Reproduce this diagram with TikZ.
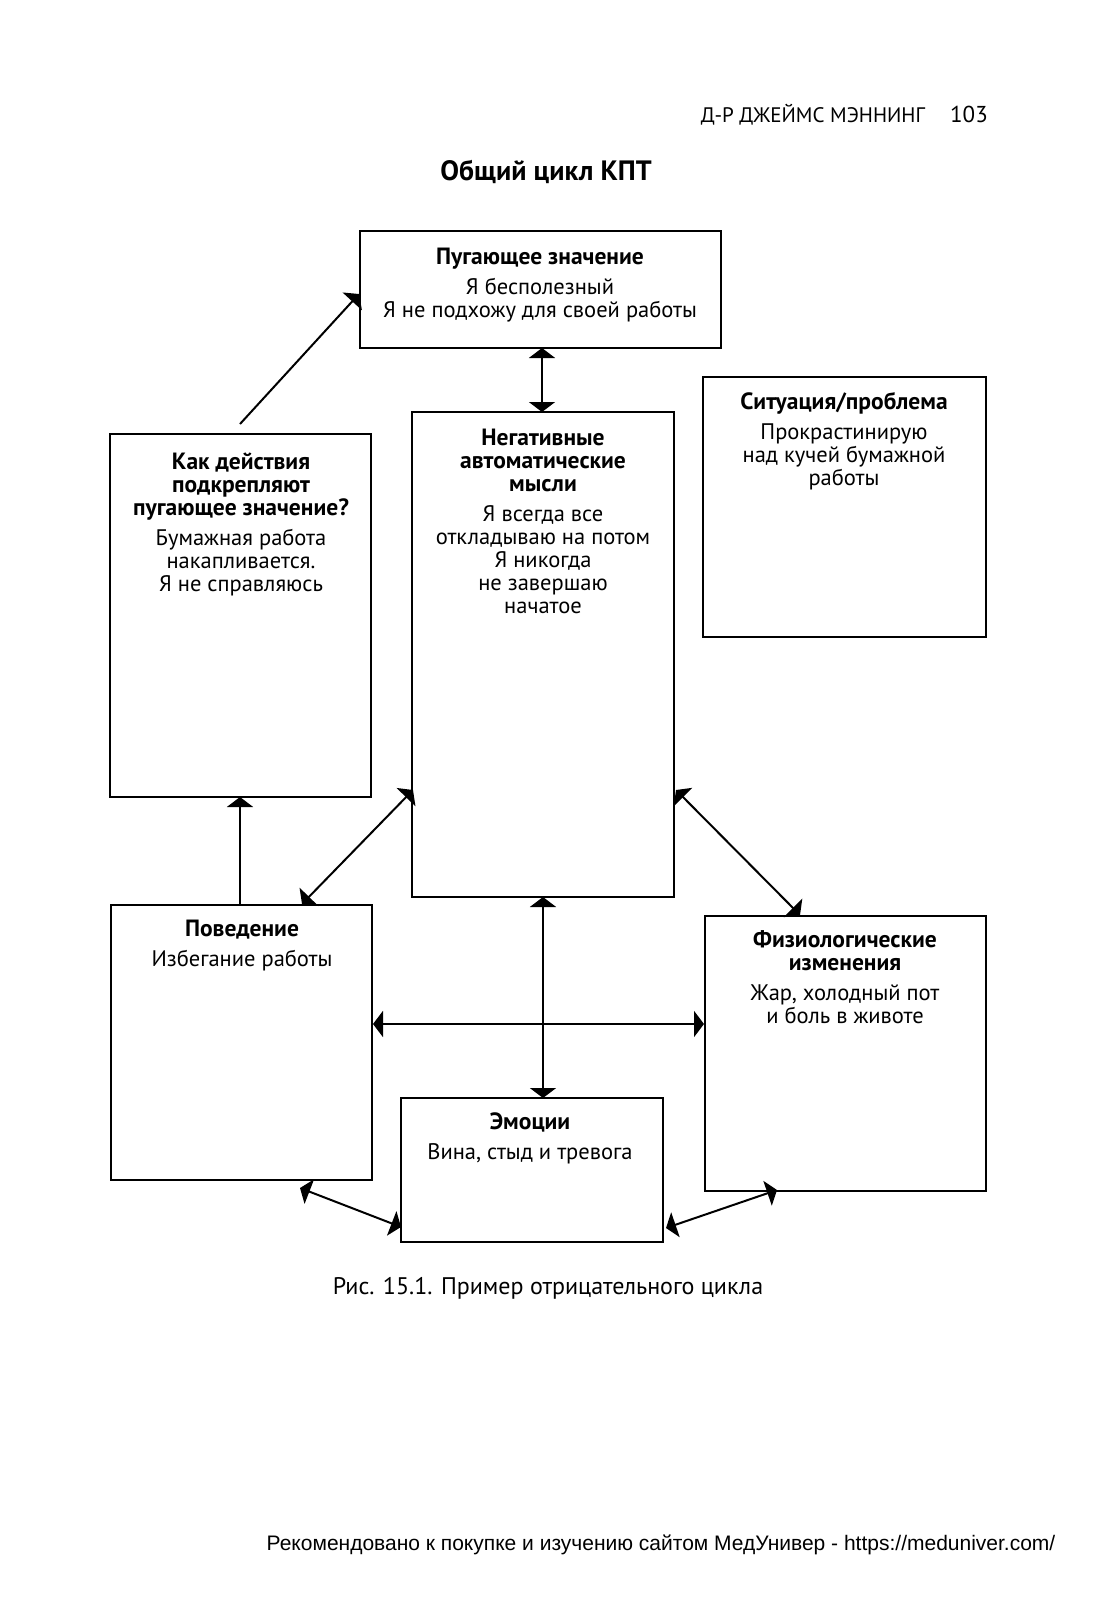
\documentclass[tikz,border=0pt]{standalone}
\usepackage{fontspec}
\setmainfont{PT Sans}
\newfontfamily\footfont{Liberation Sans}
\usetikzlibrary{arrows.meta}
\newcommand\hdf{\fontsize{23.5}{23}\selectfont\bfseries}
\begin{document}
\begin{tikzpicture}[x=1pt,y=-1pt,
  box/.style n args={2}{draw,line width=2pt,inner sep=0pt,outer sep=0pt,
    minimum width=#1pt,minimum height=#2pt,anchor=north west},
  txt/.style={align=center,inner sep=0pt,anchor=north,font=\fontsize{22.5}{23}\selectfont},
  con/.style={line width=2pt,-{Triangle[length=10pt,width=26pt]}},
  dcon/.style={line width=2pt,{Triangle[length=10pt,width=26pt]}-{Triangle[length=10pt,width=26pt]}}
]
\useasboundingbox (0,0) rectangle (1119,1600);
\fill[white] (0,0) rectangle (1119,1600);

% header
\node[anchor=base east,inner sep=0pt,font=\fontsize{21}{25}\selectfont] (hdr) at (925,123) {Д-Р ДЖЕЙМС МЭННИНГ};
\node[anchor=base west,inner sep=0pt,font=\fontsize{23}{25}\selectfont] (pg) at (950,123) {103};
\node[anchor=base,inner sep=0pt,font=\fontsize{28}{30}\selectfont\bfseries] (title) at (546,180) {Общий цикл КПТ};

% boxes
\node[box={361}{117}] (top) at (360,231) {};
\node[box={283}{260}] (sit) at (703,377) {};
\node[box={261}{363}] (act) at (110,434) {};
\node[box={262}{485}] (neg) at (412,412) {};
\node[box={261}{275}] (beh) at (111,905) {};
\node[box={281}{275}] (phys) at (705,916) {};
\node[box={262}{144}] (emo) at (401,1098) {};

% texts
\node[txt] (ttop) at (540,248) {{\hdf Пугающее значение}\\[7pt]Я бесполезный\\Я не подхожу для своей работы};
\node[txt] (tsit) at (844,392) {{\hdf Ситуация/проблема}\\[7pt]Прокрастинирую\\над кучей бумажной\\работы};
\node[txt] (tact) at (241,453) {{\hdf Как действия}\\{\hdf подкрепляют}\\{\hdf пугающее значение?}\\[7pt]Бумажная работа\\накапливается.\\Я не справляюсь};
\node[txt] (tneg) at (543,429) {{\hdf Негативные}\\{\hdf автоматические}\\{\hdf мысли}\\[7pt]Я всегда все\\откладываю на потом\\Я никогда\\не завершаю\\начатое};
\node[txt] (tbeh) at (242,920) {{\hdf Поведение}\\[7pt]Избегание работы};
\node[txt] (tphys) at (845,930) {{\hdf Физиологические}\\{\hdf изменения}\\[7pt]Жар, холодный пот\\и боль в животе};
\node[txt] (temo) at (530,1113) {{\hdf Эмоции}\\[7pt]Вина, стыд и тревога};

% connector end points on borders
\coordinate (s1) at (240,424);
\coordinate (e1) at (359,294);
\coordinate (negL) at (413,790);
\coordinate (behT) at (302,904);
\coordinate (negR) at (676,790);
\coordinate (physT) at (800,915);
\coordinate (behR) at (373,1024);
\coordinate (physL) at (704,1024);
\coordinate (behB) at (300,1188);
\coordinate (emoL) at (401,1227);
\coordinate (emoR) at (666,1228);
\coordinate (physB) at (777,1190);

\draw[con] (s1) -- (e1);
\draw[dcon] (top.south -| 542,0) -- (neg.north -| 542,0);
\draw[dcon] (negL) -- (behT);
\draw[dcon] (negR) -- (physT);
\draw[con] (beh.north -| 240,0) -- (act.south -| 240,0);
\draw[dcon] (neg.south -| 543,0) -- (emo.north -| 543,0);
\draw[dcon] (behR) -- (physL);
\draw[dcon] (behB) -- (emoL);
\draw[dcon] (emoR) -- (physB);

% caption and footer
\node[anchor=base,inner sep=0pt,font=\fontsize{24}{26}\selectfont] (cap) at (548,1294) {Рис. 15.1. Пример отрицательного цикла};
\node[anchor=base,inner sep=0pt,font=\footfont\fontsize{21}{24}\selectfont] (foot) at (661,1550) {Рекомендовано к покупке и изучению сайтом МедУнивер - https://meduniver.com/};
\end{tikzpicture}
\end{document}
